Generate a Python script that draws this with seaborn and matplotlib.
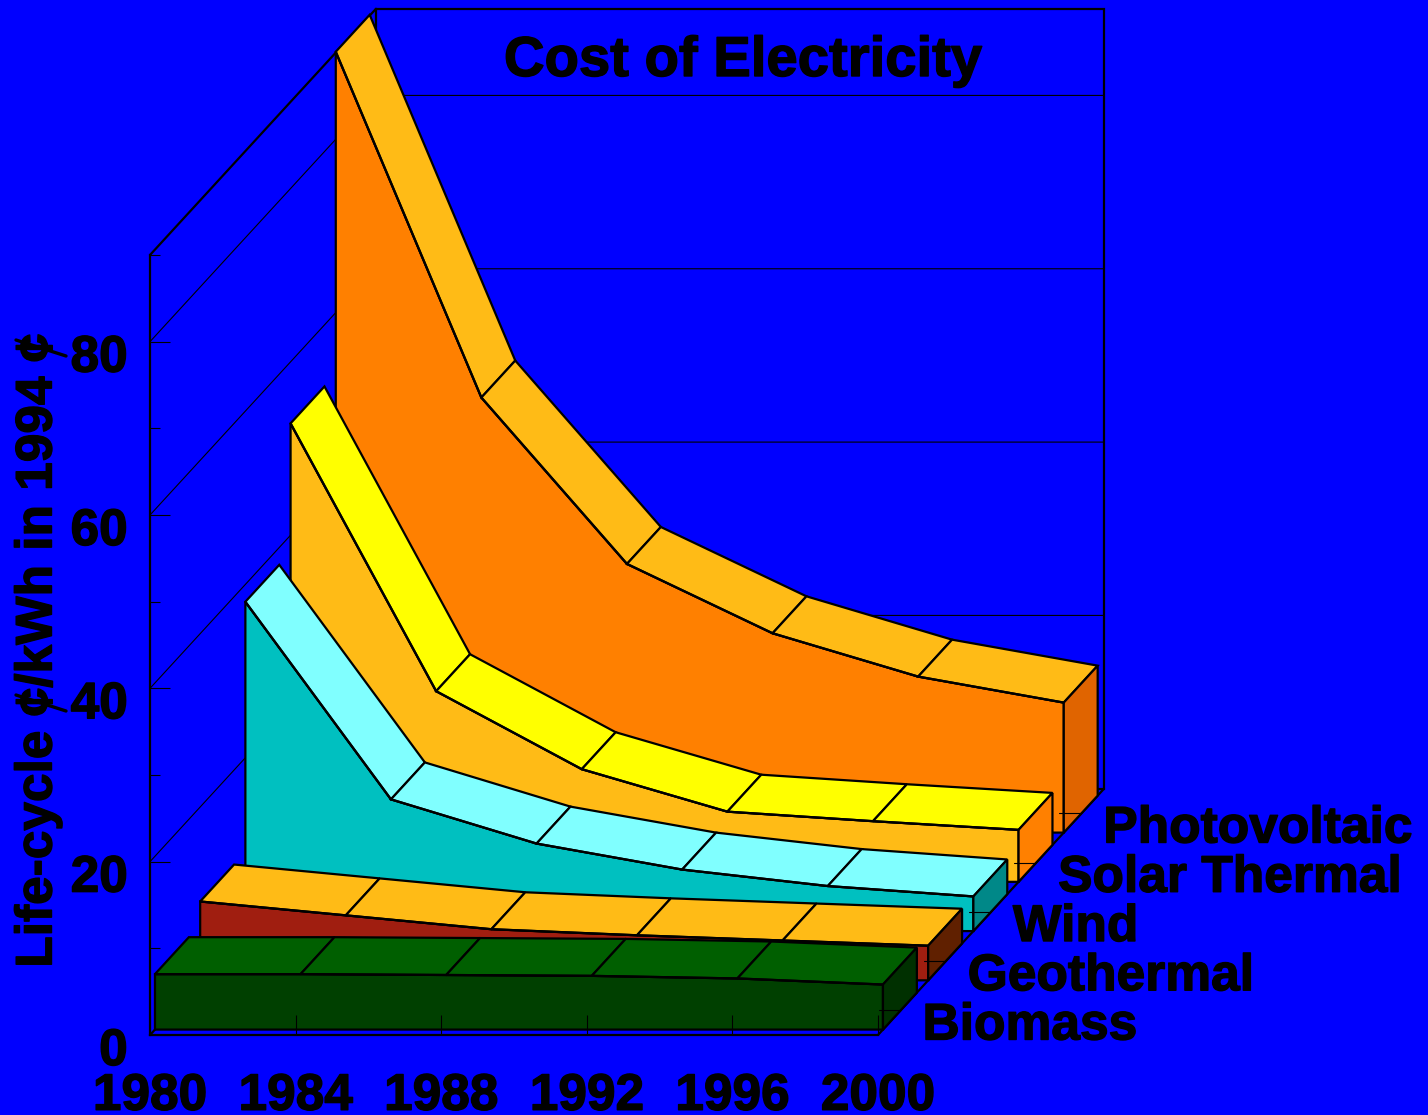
import matplotlib
matplotlib.use("Agg")
import matplotlib.pyplot as plt
import matplotlib.patheffects as pe
from matplotlib.lines import Line2D
from matplotlib.transforms import ScaledTranslation
import pandas as pd
import seaborn as sns

years = [1980, 1984, 1988, 1992, 1996, 2000]
technologies = ["Biomass", "Geothermal", "Wind", "Solar Thermal", "Photovoltaic"]
biomass = [6.4, 6.4, 6.3, 6.2, 5.9, 5.2]
geothermal = [9.1, 7.5, 5.9, 5.2, 4.6, 4.0]
wind = [38.0, 15.2, 10.1, 7.1, 5.2, 4.0]
solar_thermal = [52.9, 22.0, 13.0, 8.1, 7.0, 6.0]
photovoltaic = [90.1, 50.2, 31.0, 23.0, 18.0, 15.0]
series_values = [biomass, geothermal, wind, solar_thermal, photovoltaic]

front_colors = ["#004000", "#A01E10", "#00C0C0", "#FFBB16", "#FF8000"]
top_colors = ["#005F00", "#FFBB16", "#80FFFF", "#FFFF00", "#FFBB16"]
side_colors = ["#003000", "#602000", "#008888", "#FF8000", "#E06400"]

BLUE = "#0000FF"
W, H = 1428, 1115
PX_YEAR = 36.4
PX_VAL = 8.667
SLOT_YEARS = 45.2 / PX_YEAR    # oblique depth offset per series slot, in years
SLOT_VALUE = 49.25 / PX_VAL    # ... and in value units
FRONT, BACK = 0.11, 0.86       # depth extent of a ribbon inside its slot
YMAX = 90
DEPTH = 5


def proj(year, value, depth):
    return year + depth * SLOT_YEARS, value + depth * SLOT_VALUE


sns.set_theme(style="white")
plt.rcParams["font.family"] = ["Liberation Sans", "DejaVu Sans"]
plt.rcParams["font.weight"] = "bold"

fig = plt.figure(figsize=(W / 100, H / 100), dpi=100, facecolor=BLUE)
ax = fig.add_axes([150 / W, (H - 1035) / H, 728 / W, 780 / H], facecolor="none")
ax.set_xlim(1980, 2000)
ax.set_ylim(0, YMAX)

THICK, THIN = 1.6, 0.8
line = dict(color="black", clip_on=False, solid_joinstyle="miter")
heavy = [pe.withStroke(linewidth=1.0, foreground="black")]

# back wall and diagonals
for v in [20, 40, 60, 80]:
    x0, y0 = proj(1980, v, 0)
    x1, y1 = proj(1980, v, DEPTH)
    x2, y2 = proj(2000, v, DEPTH)
    ax.plot([x0, x1, x2], [y0, y1, y2], lw=THIN, zorder=1, **line)
bl = proj(1980, 0, DEPTH)
br = proj(2000, 0, DEPTH)
tl = proj(1980, YMAX, DEPTH)
tr = proj(2000, YMAX, DEPTH)
ax.plot([bl[0], tl[0], tr[0], br[0], bl[0]], [bl[1], tl[1], tr[1], br[1], bl[1]], lw=THICK, zorder=1, **line)
for yr in [1980, 2000]:
    a = proj(yr, 0, 0)
    b = proj(yr, 0, DEPTH)
    ax.plot([a[0], b[0]], [a[1], b[1]], lw=THICK, zorder=1, **line)
a = proj(1980, YMAX, 0)
b = proj(1980, YMAX, DEPTH)
ax.plot([a[0], b[0]], [a[1], b[1]], lw=THICK, zorder=1, **line)

# ribbons, back to front
edge = dict(edgecolor="black", linewidth=THICK, clip_on=False, joinstyle="miter")
for k in range(len(technologies) - 1, -1, -1):
    z = 3 + (4 - k)
    vals = series_values[k]
    front = [proj(y, v, k + FRONT) for y, v in zip(years, vals)]
    back = [proj(y, v, k + BACK) for y, v in zip(years, vals)]
    fb = [proj(y, 0, k + FRONT) for y in years]
    fx = [p[0] for p in front]
    fy = [p[1] for p in front]
    ax.fill(fx + [fb[-1][0], fb[0][0]], fy + [fb[-1][1], fb[0][1]],
            facecolor=front_colors[k], zorder=z, **edge)
    for i in range(len(years) - 1):
        quad = [front[i], front[i + 1], back[i + 1], back[i]]
        ax.fill([p[0] for p in quad], [p[1] for p in quad],
                facecolor=top_colors[k], zorder=z, **edge)
    sb = proj(2000, 0, k + BACK)
    quad = [front[-1], back[-1], sb, fb[-1]]
    ax.fill([p[0] for p in quad], [p[1] for p in quad],
            facecolor=side_colors[k], zorder=z, **edge)
    edge_df = pd.DataFrame({"x": fx, "y": fy})
    sns.lineplot(data=edge_df, x="x", y="y", estimator=None, sort=False, ax=ax,
                 lw=THICK, zorder=z + 0.5, legend=False, **line)

    lx, ly = proj(2000 + 44.5 / PX_YEAR, 9 / PX_VAL, k)
    ax.text(lx, ly, technologies[k], ha="left", va="center", fontsize=37.1,
            color="black", zorder=20, clip_on=False, path_effects=heavy)

# depth ticks on the right floor edge
for k in range(len(technologies)):
    ex, ey = proj(2000, 0, k + 0.5)
    ax.plot([ex - 22 / PX_YEAR, ex], [ey, ey], lw=THIN, zorder=15, **line)

# axes
for s in ["top", "right"]:
    ax.spines[s].set_visible(False)
for s in ["left", "bottom"]:
    ax.spines[s].set_visible(True)
    ax.spines[s].set_color("black")
    ax.spines[s].set_linewidth(THICK)
    ax.spines[s].set_zorder(16)

ax.set_xticks(years)
ax.set_xticklabels([str(y) for y in years])
ax.set_yticks([0, 20, 40, 60, 80])
ax.set_yticks([10, 30, 50, 70, 90], minor=True)
ax.tick_params(axis="both", which="major", direction="in", length=14.4, width=0.8,
               color="black", labelcolor="black", labelsize=37,
               left=True, bottom=True)
ax.tick_params(axis="y", which="minor", direction="in", length=7.2, width=0.8,
               color="black", left=True)
ax.tick_params(axis="x", which="major", pad=26.5)
ax.tick_params(axis="y", which="major", pad=16)
ax.xaxis.set_zorder(15)
ax.yaxis.set_zorder(15)
shift = ScaledTranslation(0, -11 / 100, fig.dpi_scale_trans)
for lab in ax.get_yticklabels():
    lab.set_transform(lab.get_transform() + shift)
    lab.set_fontweight("bold")
    lab.set_path_effects(heavy)
for lab in ax.get_xticklabels():
    lab.set_fontweight("bold")
    lab.set_path_effects(heavy)

ax.set_xlabel("")
ax.set_ylabel("Life-cycle ¢/kWh in 1994 ¢", fontsize=37, fontweight="bold", color="black",
              va="center", path_effects=heavy)
ax.yaxis.set_label_coords((38 - 150) / 728, (1035 - 651) / 780)
ax.set_title("Cost of Electricity", fontsize=40.5, fontweight="bold", color="black",
             x=(743 - 150) / 728, y=(1035 - 76) / 780, pad=0, path_effects=heavy)

# the long slanted bars of the two cent signs in the rotated label
for (px0, py0, px1, py1) in [(16, 340, 66, 356), (16, 695, 66, 711)]:
    fig.add_artist(Line2D([px0 / W, px1 / W], [1 - py0 / H, 1 - py1 / H],
                          color="black", lw=2.4, transform=fig.transFigure))

fig.savefig("out.png", dpi=100, facecolor=BLUE)
